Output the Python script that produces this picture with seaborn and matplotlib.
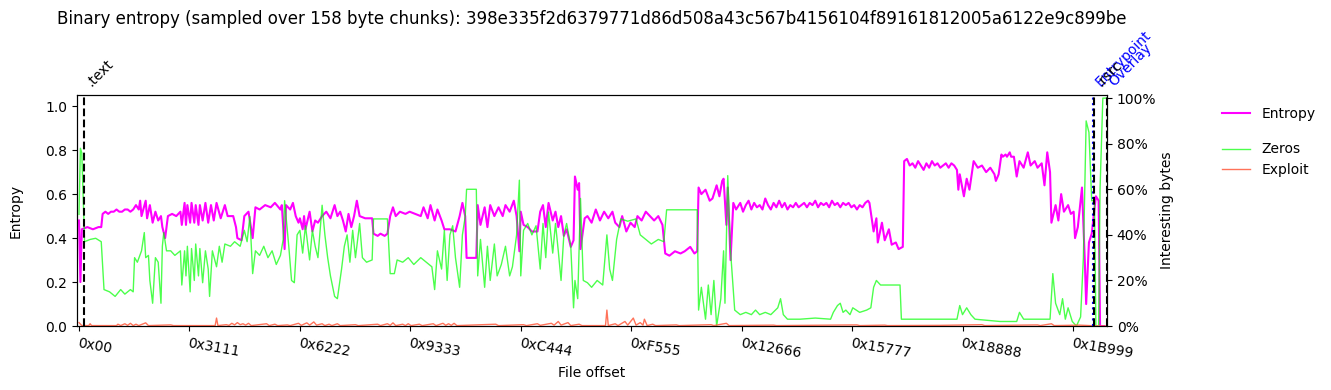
import numpy as np
import pandas as pd
import matplotlib
matplotlib.use("Agg")
import matplotlib.pyplot as plt
import matplotlib.transforms as mtrans
import seaborn as sns

# ---------------- data ----------------
title = ("Binary entropy (sampled over 158 byte chunks): "
         "398e335f2d6379771d86d508a43c567b4156104f89161812005a6122e9c899be")
chunk_size = 158
n_chunks = 740
tick_step = 0x3111
tick_offsets = [i * tick_step for i in range(10)]
tick_labels = ["0x%02X" % t for t in tick_offsets]

section_names = [".text", "Entrypoint", ".rsrc", "Overlay"]
section_offsets = [0x200, 115330, 115400, 116900]
section_line_colors = ["black", "blue", "black", "black"]
section_text_colors = ["black", "blue", "black", "blue"]
section_styles = ["--", ":", "--", "--"]

# (chunk index, entropy)
entropy_points = [
    (0, 0.48), (1, 0.20), (2, 0.44), (6, 0.45), (10, 0.44), (14, 0.45), (16, 0.45), (17, 0.51), (19, 0.52), (21, 0.51),
    (23, 0.52), (25, 0.52), (27, 0.53), (29, 0.52), (31, 0.52), (33, 0.53), (35, 0.53), (37, 0.52), (39, 0.53), (41, 0.55),
    (43, 0.53), (44, 0.57), (45, 0.50), (48, 0.57), (49, 0.49), (51, 0.55), (53, 0.47), (55, 0.52), (57, 0.48), (59, 0.50),
    (60, 0.45), (62, 0.40), (64, 0.50), (67, 0.51), (70, 0.50), (73, 0.52), (74, 0.46), (76, 0.56), (77, 0.46), (78, 0.55),
    (80, 0.47), (81, 0.56), (83, 0.47), (84, 0.55), (86, 0.46), (87, 0.55), (89, 0.48), (91, 0.56), (93, 0.47), (95, 0.55),
    (97, 0.48), (99, 0.56), (102, 0.49), (105, 0.55), (107, 0.50), (111, 0.50), (113, 0.45), (114, 0.40), (117, 0.39), (119, 0.50),
    (122, 0.52), (125, 0.40), (127, 0.54), (130, 0.53), (134, 0.55), (138, 0.54), (141, 0.56), (145, 0.53), (146, 0.55), (148, 0.35),
    (149, 0.55), (152, 0.53), (154, 0.56), (156, 0.50), (158, 0.47), (159, 0.49), (161, 0.44), (162, 0.50), (163, 0.44), (166, 0.52),
    (168, 0.43), (170, 0.48), (172, 0.47), (175, 0.50), (178, 0.52), (181, 0.49), (184, 0.55), (186, 0.50), (188, 0.52), (190, 0.48),
    (192, 0.43), (194, 0.51), (196, 0.45), (198, 0.50), (200, 0.57), (202, 0.50), (206, 0.49), (211, 0.49), (212, 0.42), (215, 0.41),
    (217, 0.42), (220, 0.41), (222, 0.42), (224, 0.50), (226, 0.54), (228, 0.50), (231, 0.52), (235, 0.51), (238, 0.52), (242, 0.51),
    (246, 0.50), (248, 0.54), (251, 0.49), (253, 0.55), (256, 0.48), (258, 0.53), (261, 0.48), (263, 0.44), (267, 0.44), (271, 0.43),
    (274, 0.50), (276, 0.56), (278, 0.50), (279, 0.31), (286, 0.31), (287, 0.55), (289, 0.46), (292, 0.54), (294, 0.45), (296, 0.55),
    (299, 0.50), (302, 0.54), (305, 0.50), (307, 0.55), (310, 0.52), (313, 0.57), (315, 0.50), (317, 0.34), (318, 0.52), (320, 0.46),
    (323, 0.45), (326, 0.43), (330, 0.43), (332, 0.52), (334, 0.55), (336, 0.45), (338, 0.56), (341, 0.48), (343, 0.52), (345, 0.45),
    (347, 0.50), (349, 0.41), (351, 0.44), (354, 0.36), (356, 0.39), (357, 0.68), (359, 0.62), (360, 0.65), (361, 0.35), (364, 0.49),
    (366, 0.50), (369, 0.47), (372, 0.53), (375, 0.48), (378, 0.52), (381, 0.49), (384, 0.52), (386, 0.47), (389, 0.45), (391, 0.50),
    (394, 0.43), (397, 0.47), (400, 0.45), (402, 0.50), (405, 0.48), (408, 0.52), (411, 0.50), (414, 0.48), (417, 0.50), (420, 0.46),
    (422, 0.33), (425, 0.32), (429, 0.34), (433, 0.33), (436, 0.34), (440, 0.36), (443, 0.33), (445, 0.34), (446, 0.63), (448, 0.60),
    (451, 0.62), (454, 0.57), (456, 0.58), (459, 0.64), (461, 0.59), (463, 0.66), (464, 0.67), (466, 0.46), (467, 0.63), (469, 0.30),
    (471, 0.56), (473, 0.53), (476, 0.56), (478, 0.52), (480, 0.55), (482, 0.57), (484, 0.53), (486, 0.56), (488, 0.54), (490, 0.55),
    (492, 0.53), (494, 0.58), (496, 0.55), (498, 0.53), (500, 0.56), (502, 0.54), (504, 0.57), (506, 0.54), (508, 0.56), (510, 0.53),
    (512, 0.55), (514, 0.54), (516, 0.56), (518, 0.54), (520, 0.55), (522, 0.56), (524, 0.54), (526, 0.56), (528, 0.55), (530, 0.57),
    (532, 0.54), (534, 0.56), (536, 0.55), (538, 0.56), (540, 0.54), (542, 0.57), (544, 0.55), (546, 0.56), (548, 0.54), (550, 0.56),
    (552, 0.55), (554, 0.56), (556, 0.54), (558, 0.55), (560, 0.53), (562, 0.55), (564, 0.54), (566, 0.56), (568, 0.57), (569, 0.56),
    (572, 0.43), (574, 0.49), (575, 0.38), (578, 0.47), (580, 0.39), (583, 0.44), (585, 0.37), (588, 0.38), (590, 0.35), (593, 0.36),
    (594, 0.75), (596, 0.76), (598, 0.73), (600, 0.74), (602, 0.72), (604, 0.75), (606, 0.73), (608, 0.71), (610, 0.74), (612, 0.72),
    (614, 0.75), (616, 0.73), (618, 0.74), (620, 0.72), (622, 0.73), (624, 0.74), (626, 0.72), (628, 0.74), (630, 0.73), (632, 0.71),
    (633, 0.62), (634, 0.69), (637, 0.59), (639, 0.67), (641, 0.62), (644, 0.75), (647, 0.72), (650, 0.73), (653, 0.70), (656, 0.72),
    (659, 0.69), (660, 0.66), (662, 0.69), (664, 0.78), (665, 0.77), (667, 0.78), (668, 0.77), (670, 0.79), (671, 0.77), (673, 0.77),
    (675, 0.68), (677, 0.75), (680, 0.72), (683, 0.79), (685, 0.73), (688, 0.75), (690, 0.72), (693, 0.74), (695, 0.64), (697, 0.79),
    (699, 0.70), (700, 0.47), (703, 0.55), (705, 0.48), (707, 0.60), (709, 0.52), (712, 0.55), (714, 0.51), (716, 0.52), (717, 0.40),
    (719, 0.45), (722, 0.63), (724, 0.30), (725, 0.10), (727, 0.38), (729, 0.42), (732, 0.59), (734, 0.57), (735, 0.0), (738, 0.0),
]

# (chunk index, ratio of zero bytes)
zeros_points = [
    (0, 0.49), (1, 0.78), (2, 0.76), (4, 0.37), (8, 0.38), (12, 0.385), (16, 0.37), (18, 0.16), (22, 0.15), (26, 0.13),
    (30, 0.16), (33, 0.14), (37, 0.16), (39, 0.15), (40, 0.30), (42, 0.28), (45, 0.33), (47, 0.41), (48, 0.30), (50, 0.31),
    (51, 0.20), (53, 0.10), (55, 0.30), (57, 0.28), (59, 0.10), (60, 0.35), (61, 0.41), (63, 0.33), (66, 0.33), (69, 0.31),
    (73, 0.33), (74, 0.18), (76, 0.33), (77, 0.22), (78, 0.35), (80, 0.15), (81, 0.34), (83, 0.20), (84, 0.36), (86, 0.22),
    (87, 0.34), (89, 0.19), (91, 0.33), (93, 0.25), (94, 0.13), (96, 0.33), (99, 0.26), (101, 0.35), (103, 0.28), (105, 0.36),
    (109, 0.35), (112, 0.37), (116, 0.35), (119, 0.42), (121, 0.37), (123, 0.48), (125, 0.23), (127, 0.33), (130, 0.31), (133, 0.35),
    (136, 0.30), (139, 0.33), (142, 0.27), (145, 0.31), (147, 0.38), (148, 0.55), (151, 0.35), (153, 0.20), (155, 0.19), (157, 0.40),
    (159, 0.42), (161, 0.32), (163, 0.44), (166, 0.29), (168, 0.42), (170, 0.35), (172, 0.30), (175, 0.53), (177, 0.40), (179, 0.30),
    (181, 0.22), (184, 0.13), (186, 0.12), (189, 0.25), (191, 0.35), (193, 0.40), (195, 0.28), (197, 0.42), (199, 0.30), (202, 0.45),
    (204, 0.30), (207, 0.28), (211, 0.29), (212, 0.47), (222, 0.47), (224, 0.23), (227, 0.23), (229, 0.29), (233, 0.28), (237, 0.30),
    (241, 0.27), (246, 0.30), (250, 0.28), (254, 0.26), (256, 0.16), (258, 0.33), (261, 0.25), (263, 0.42), (265, 0.20), (267, 0.40),
    (269, 0.44), (271, 0.30), (274, 0.17), (276, 0.40), (278, 0.48), (279, 0.60), (286, 0.60), (287, 0.22), (289, 0.38), (292, 0.17),
    (294, 0.35), (296, 0.20), (299, 0.36), (301, 0.22), (304, 0.27), (307, 0.35), (310, 0.22), (312, 0.26), (315, 0.40), (317, 0.64),
    (318, 0.22), (320, 0.42), (323, 0.45), (326, 0.40), (329, 0.44), (332, 0.25), (334, 0.45), (336, 0.30), (338, 0.50), (341, 0.32),
    (343, 0.45), (345, 0.33), (347, 0.20), (349, 0.40), (351, 0.45), (354, 0.35), (356, 0.08), (357, 0.20), (359, 0.12), (361, 0.56),
    (363, 0.20), (366, 0.19), (369, 0.17), (373, 0.20), (377, 0.18), (380, 0.40), (382, 0.25), (384, 0.20), (387, 0.38), (390, 0.47),
    (395, 0.46), (401, 0.47), (404, 0.40), (408, 0.38), (412, 0.36), (417, 0.38), (421, 0.37), (423, 0.51), (433, 0.51), (445, 0.51),
    (446, 0.07), (448, 0.17), (451, 0.03), (453, 0.18), (455, 0.05), (457, 0.20), (459, 0.0), (462, 0.12), (464, 0.33), (465, 0.10),
    (467, 0.66), (469, 0.33), (472, 0.07), (476, 0.05), (480, 0.06), (484, 0.05), (487, 0.07), (490, 0.05), (494, 0.06), (498, 0.05),
    (503, 0.08), (505, 0.12), (507, 0.05), (510, 0.03), (519, 0.03), (530, 0.035), (541, 0.03), (543, 0.06), (546, 0.09), (548, 0.10),
    (550, 0.06), (552, 0.07), (555, 0.05), (557, 0.08), (562, 0.06), (567, 0.07), (570, 0.08), (572, 0.17), (574, 0.20), (577, 0.18),
    (584, 0.18), (591, 0.18), (592, 0.03), (606, 0.03), (620, 0.03), (632, 0.03), (634, 0.09), (636, 0.05), (639, 0.08), (642, 0.05),
    (645, 0.03), (663, 0.02), (675, 0.02), (677, 0.06), (680, 0.03), (699, 0.03), (701, 0.23), (703, 0.10), (706, 0.05), (708, 0.12),
    (710, 0.03), (712, 0.08), (715, 0.02), (718, 0.0), (721, 0.04), (723, 0.30), (725, 0.90), (727, 0.85), (729, 0.55), (731, 0.55),
    (732, 0.0), (734, 0.0), (735, 0.60), (737, 1.0), (740, 1.0),
]

# (chunk index, ratio of exploit-like bytes)
exploit_points = [
    (0, 0.015), (2, 0.002), (7, 0.002), (8, 0.01), (9, 0.002), (27, 0.002), (28, 0.008), (30, 0.002), (33, 0.01), (35, 0.003),
    (37, 0.012), (39, 0.002), (41, 0.008), (43, 0.002), (48, 0.014), (50, 0.002), (66, 0.005), (68, 0.002), (98, 0.002), (99, 0.035),
    (100, 0.002), (106, 0.006), (108, 0.003), (110, 0.012), (112, 0.005), (114, 0.015), (116, 0.006), (118, 0.01), (120, 0.004), (122, 0.012),
    (124, 0.002), (135, 0.01), (137, 0.002), (141, 0.008), (143, 0.002), (150, 0.005), (152, 0.002), (158, 0.012), (160, 0.003), (164, 0.014),
    (166, 0.004), (169, 0.018), (171, 0.004), (175, 0.01), (177, 0.002), (180, 0.008), (182, 0.002), (186, 0.01), (188, 0.002), (199, 0.006),
    (201, 0.002), (215, 0.008), (217, 0.002), (222, 0.01), (224, 0.003), (226, 0.014), (228, 0.002), (233, 0.008), (235, 0.002), (237, 0.01),
    (239, 0.002), (245, 0.008), (247, 0.002), (255, 0.01), (257, 0.002), (262, 0.012), (264, 0.003), (266, 0.01), (268, 0.003), (270, 0.012),
    (272, 0.002), (300, 0.008), (302, 0.002), (320, 0.006), (322, 0.002), (330, 0.01), (332, 0.003), (340, 0.012), (342, 0.004), (345, 0.02),
    (347, 0.004), (352, 0.015), (354, 0.002), (360, 0.008), (362, 0.002), (379, 0.002), (380, 0.07), (381, 0.002), (386, 0.01), (388, 0.002),
    (393, 0.02), (395, 0.004), (399, 0.035), (401, 0.004), (404, 0.015), (406, 0.004), (407, 0.03), (409, 0.002), (413, 0.008), (415, 0.002),
    (430, 0.005), (432, 0.002), (455, 0.006), (457, 0.002), (466, 0.012), (468, 0.002), (500, 0.004), (502, 0.002), (560, 0.005), (562, 0.002),
    (580, 0.004), (582, 0.002), (620, 0.003), (650, 0.006), (652, 0.002), (690, 0.005), (692, 0.002), (700, 0.01), (702, 0.002), (720, 0.004),
    (735, 0.0), (740, 0.0),
]

# ---------------- plot ----------------
ent = pd.DataFrame(entropy_points, columns=["chunk", "value"])
zer = pd.DataFrame(zeros_points, columns=["chunk", "value"])
exp_ = pd.DataFrame(exploit_points, columns=["chunk", "value"])
for d in (ent, zer, exp_):
    d["offset"] = d["chunk"] * chunk_size

fig = plt.figure(figsize=(13.31, 3.9), dpi=100)
ax = fig.add_axes([0.0579, 0.164, 0.7738, 0.592])

sns.lineplot(data=ent, x="offset", y="value", ax=ax, color="magenta", lw=1.5,
             estimator=None, sort=False, legend=False, label="Entropy")
ax.set_xlim(-1.4 * chunk_size, n_chunks * chunk_size)
ax.set_ylim(0, 1.05)
ax.set_yticks([0, 0.2, 0.4, 0.6, 0.8, 1.0])
ax.set_xticks(tick_offsets)
ax.set_xticklabels(tick_labels, rotation=-10, ha="left", rotation_mode="anchor")
ax.set_xlabel("File offset")
ax.set_ylabel("Entropy", labelpad=16)

ax2 = ax.twinx()
sns.lineplot(data=zer, x="offset", y="value", ax=ax2, color="lime", alpha=0.7, lw=1,
             estimator=None, sort=False, legend=False, label="Zeros")
sns.lineplot(data=exp_, x="offset", y="value", ax=ax2, color="tomato", alpha=0.9, lw=1,
             estimator=None, sort=False, legend=False, label="Exploit")
ax2.set_ylim(0, 1.013)
ax2.set_yticks([0, 0.2, 0.4, 0.6, 0.8, 1.0])
ax2.set_yticklabels(["0%", "20%", "40%", "60%", "80%", "100%"])
ax2.set_ylabel("Interesting bytes", labelpad=3)
ax2.set_xlim(ax.get_xlim())

trans = mtrans.blended_transform_factory(ax.transData, ax.transAxes)
for name, off, lc, tc, ls in zip(section_names, section_offsets, section_line_colors,
                                 section_text_colors, section_styles):
    ax2.axvline(off, color=lc, ls=ls, lw=1.5)
    ax.text(off, 1.025, name, transform=trans, rotation=45, ha="left", va="bottom",
            color=tc, fontsize=10)

fig.text(0.4448, 0.952, title, ha="center", va="center", fontsize=12)

h1 = ax.get_lines()[0]
h2, h3 = ax2.get_lines()[0], ax2.get_lines()[1]
fig.legend(handles=[h1], labels=["Entropy"], loc="upper left",
           bbox_to_anchor=(0.909, 0.757), frameon=False)
fig.legend(handles=[h2, h3], labels=["Zeros", "Exploit"], loc="upper left",
           bbox_to_anchor=(0.909, 0.667), frameon=False)

fig.savefig("out.png", dpi=100)
